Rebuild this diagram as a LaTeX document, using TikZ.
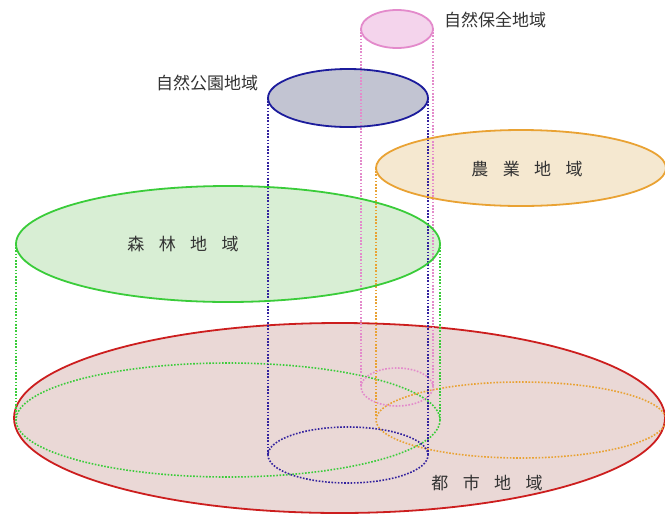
\documentclass[tikz,border=0pt]{standalone}
\usepackage{fontspec}
\newfontfamily\cjk{Noto Sans CJK JP}
\usetikzlibrary{shapes.geometric}
\definecolor{redline}{HTML}{CC1E1E}
\definecolor{redfill}{HTML}{EAD8D6}
\definecolor{greenline}{HTML}{3ACC3A}
\definecolor{greenfill}{HTML}{D8EED4}
\definecolor{blueline}{HTML}{1C1C9C}
\definecolor{bluedot}{HTML}{33229E}
\definecolor{bluefill}{HTML}{C2C4D2}
\definecolor{pinkline}{HTML}{E38ACB}
\definecolor{pinkfill}{HTML}{F4D4EC}
\definecolor{orangeline}{HTML}{E9A233}
\definecolor{orangefill}{HTML}{F5E8D0}
\tikzset{
  ell/.style={ellipse, inner sep=0pt, outer sep=0pt},
  topell/.style={ell, line width=1.8pt},
  botell/.style={ell, line width=1.6pt, dash pattern=on 1.6pt off 1.6pt},
  side/.style={line width=1.6pt, dash pattern=on 1.6pt off 1.6pt},
  lbl/.style={font=\cjk\fontsize{17}{17}\selectfont, inner sep=0pt, text=black!80},
}
\begin{document}
\begin{tikzpicture}[x=1pt, y=-1pt]
\useasboundingbox (0,0) rectangle (665,515);
% urban area (base)
\node[ell, draw=redline, fill=redfill, line width=1.8pt, minimum width=651pt, minimum height=190pt] (urban) at (339.5,418) {};
% bottom ellipses
\node[botell, draw=greenline, minimum width=424pt, minimum height=114pt] (forestB) at (228,420) {};
\node[botell, draw=orangeline, minimum width=290pt, minimum height=76pt] (agriB) at (521,420) {};
\node[botell, draw=pinkline, minimum width=72pt, minimum height=38pt] (consB) at (397,387) {};
\node[botell, draw=bluedot, minimum width=160pt, minimum height=56pt] (parkB) at (348,455) {};
% top ellipses (fills)
\node[topell, fill=greenfill, minimum width=424pt, minimum height=116pt] (forestT) at (228,244) {};
\node[topell, fill=orangefill, minimum width=290pt, minimum height=76pt] (agriT) at (521,168) {};
\node[topell, fill=bluefill, minimum width=160pt, minimum height=58pt] (parkT) at (348,98) {};
\node[topell, fill=pinkfill, minimum width=72pt, minimum height=38pt] (consT) at (397,29) {};
% sides
\draw[side, greenline] (forestT.west) -- (forestB.west);
\draw[side, greenline] (forestT.east) -- (forestB.east);
\draw[side, orangeline] (agriT.west) -- (agriB.west);
\draw[side, orangeline] (agriT.east) -- (agriB.east);
\draw[side, pinkline] (consT.west) -- (consB.west);
\draw[side, pinkline] (consT.east) -- (consB.east);
\draw[side, bluedot] (parkT.west) -- (parkB.west);
\draw[side, bluedot] (parkT.east) -- (parkB.east);
% top outlines
\node[topell, draw=greenline, minimum width=424pt, minimum height=116pt] at (forestT.center) {};
\node[topell, draw=orangeline, minimum width=290pt, minimum height=76pt] at (agriT.center) {};
\node[topell, draw=blueline, minimum width=160pt, minimum height=58pt] at (parkT.center) {};
\node[topell, draw=pinkline, minimum width=72pt, minimum height=38pt] at (consT.center) {};
% labels
\node[lbl] (lcons) at (495,20) {自然保全地域};
\node[lbl] (lpark) at (207,83) {自然公園地域};
\node[lbl] (lagri) at (527,169) {農\hspace{0.85em}業\hspace{0.85em}地\hspace{0.85em}域};
\node[lbl] (lforest) at (183,244) {森\hspace{0.85em}林\hspace{0.85em}地\hspace{0.85em}域};
\node[lbl] (lurban) at (487,483) {都\hspace{0.85em}市\hspace{0.85em}地\hspace{0.85em}域};
\end{tikzpicture}
\end{document}
